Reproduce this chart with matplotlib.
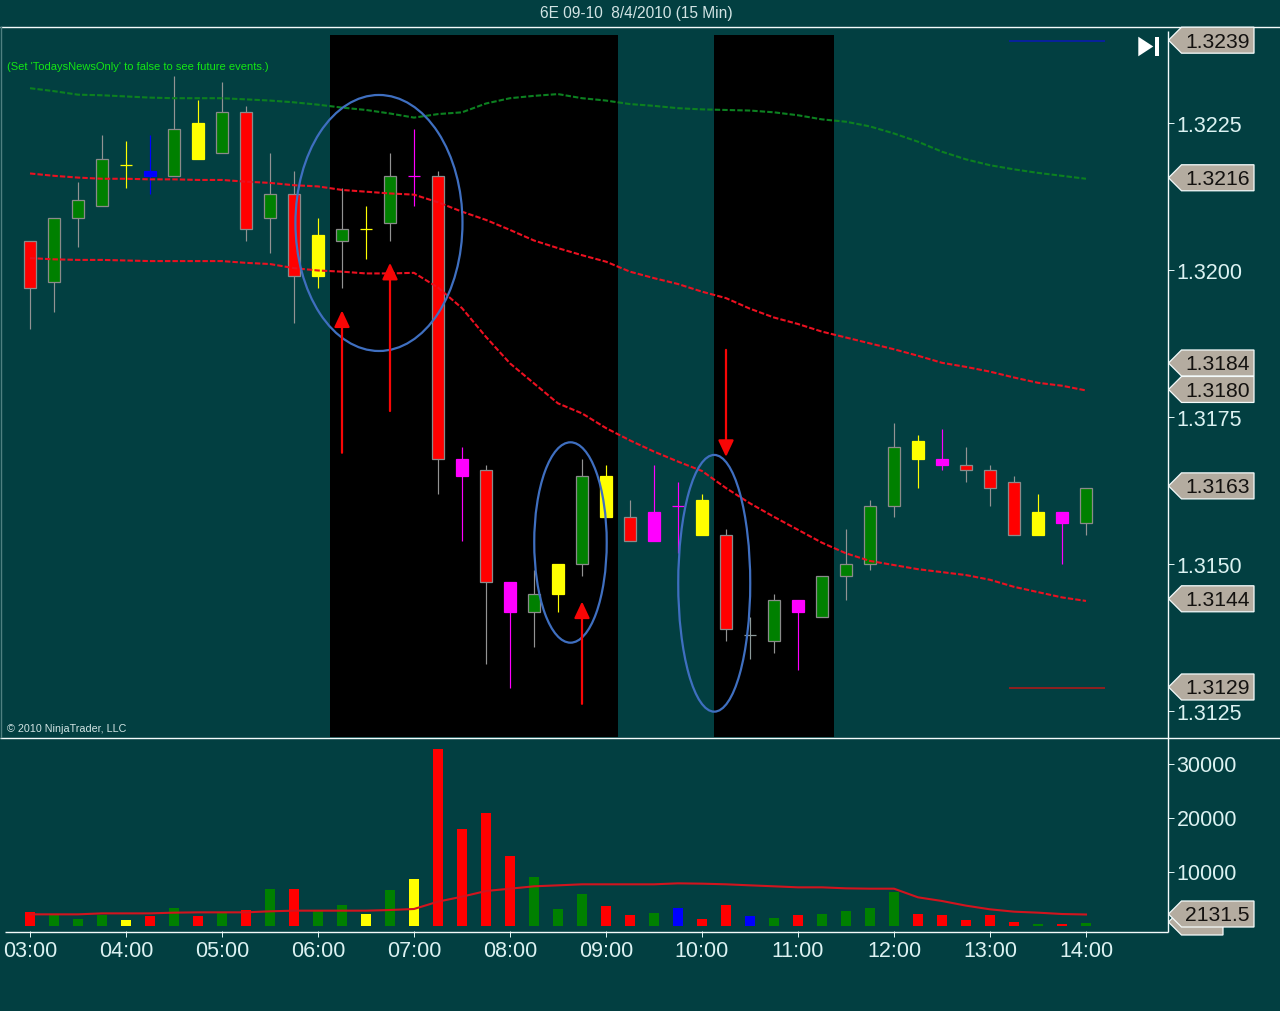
import matplotlib
matplotlib.use("Agg")
import matplotlib.pyplot as plt
from matplotlib.patches import Ellipse, FancyArrowPatch, Polygon
from matplotlib.transforms import ScaledTranslation

# bar index 0 = 03:00, one bar every 15 minutes
time_labels = ["03:00", "04:00", "05:00", "06:00", "07:00", "08:00", "09:00",
               "10:00", "11:00", "12:00", "13:00", "14:00"]

body_top = [1.3205, 1.3209, 1.3212, 1.3219, 1.3218, 1.3217, 1.3224, 1.3225, 1.3227,
            1.3227, 1.3213, 1.3213, 1.3206, 1.3207, 1.3207, 1.3216, 1.3216, 1.3216,
            1.3168, 1.3166, 1.3147, 1.3145, 1.3150, 1.3165, 1.3165, 1.3158, 1.3159,
            1.3160, 1.3161, 1.3155, 1.3138, 1.3144, 1.3144, 1.3148, 1.3150, 1.3160,
            1.3170, 1.3171, 1.3168, 1.3167, 1.3166, 1.3164, 1.3159, 1.3159, 1.3163]
body_bottom = [1.3197, 1.3198, 1.3209, 1.3211, 1.3218, 1.3216, 1.3216, 1.3219, 1.3220,
               1.3207, 1.3209, 1.3199, 1.3199, 1.3205, 1.3207, 1.3208, 1.3216, 1.3168,
               1.3165, 1.3147, 1.3142, 1.3142, 1.3145, 1.3150, 1.3158, 1.3154, 1.3154,
               1.3160, 1.3155, 1.3139, 1.3138, 1.3137, 1.3142, 1.3141, 1.3148, 1.3150,
               1.3160, 1.3168, 1.3167, 1.3166, 1.3163, 1.3155, 1.3155, 1.3157, 1.3157]
highs = [1.3205, 1.3209, 1.3215, 1.3223, 1.3222, 1.3223, 1.3233, 1.3229, 1.3232,
         1.3228, 1.3220, 1.3217, 1.3209, 1.3214, 1.3211, 1.3220, 1.3224, 1.3217,
         1.3170, 1.3167, 1.3147, 1.3149, 1.3150, 1.3168, 1.3167, 1.3161, 1.3167,
         1.3164, 1.3162, 1.3156, 1.3141, 1.3145, 1.3144, 1.3148, 1.3156, 1.3161,
         1.3174, 1.3172, 1.3173, 1.3170, 1.3167, 1.3165, 1.3162, 1.3159, 1.3163]
lows = [1.3190, 1.3193, 1.3204, 1.3211, 1.3214, 1.3213, 1.3216, 1.3219, 1.3220,
        1.3205, 1.3203, 1.3191, 1.3197, 1.3197, 1.3202, 1.3205, 1.3211, 1.3162,
        1.3154, 1.3133, 1.3129, 1.3136, 1.3142, 1.3148, 1.3158, 1.3154, 1.3154,
        1.3152, 1.3155, 1.3137, 1.3134, 1.3135, 1.3132, 1.3141, 1.3144, 1.3149,
        1.3158, 1.3163, 1.3166, 1.3164, 1.3160, 1.3155, 1.3155, 1.3150, 1.3155]
candle_colors = list("RGGGYBGYGRGRYGYGMRMRMGYGYRMMYRWGMGGGGYMRRRYMG")

volumes = [2593, 2222, 1296, 2037, 1111, 1852, 3333, 1852, 2593, 2963, 6852, 6852,
           2778, 3889, 2222, 6667, 8704, 32778, 17963, 20926, 12963, 9074, 3148, 5926,
           3704, 2037, 2407, 3333, 1296, 3889, 1852, 1481, 2037, 2222, 2778, 3333,
           6296, 2222, 2037, 1111, 2037, 741, 370, 370, 556]
volume_colors = list("RGGGYRGRGRGRGGYGYRRRRGGGRRGBRRBGRGGGGRRRRRGRG")
volume_avg = [2160, 2160, 2160, 2340, 2340, 2340, 2470, 2530, 2530, 2530, 2720, 2840,
              2840, 2840, 2840, 2960, 3150, 4510, 5430, 6480, 6910, 7350, 7530, 7720,
              7720, 7720, 7720, 7900, 7840, 7720, 7530, 7350, 7160, 7160, 6975, 6910,
              6910, 5310, 4630, 3770, 3090, 2655, 2470, 2220, 2131.5]

upper_green = [1.32310, 1.32305, 1.32299, 1.32298, 1.32296, 1.32294, 1.32293, 1.32293,
               1.32293, 1.32291, 1.32289, 1.32286, 1.32282, 1.32277, 1.32273, 1.32267,
               1.32260, 1.32266, 1.32269, 1.32284, 1.32293, 1.32297, 1.32300, 1.32293,
               1.32289, 1.32283, 1.32280, 1.32276, 1.32274, 1.32273, 1.32272, 1.32269,
               1.32264, 1.32257, 1.32253, 1.32245, 1.32233, 1.32219, 1.32202, 1.32189,
               1.32179, 1.32172, 1.32166, 1.32161, 1.32156]
mid_red = [1.32165, 1.32161, 1.32158, 1.32156, 1.32156, 1.32155, 1.32155, 1.32154,
           1.32154, 1.32151, 1.32149, 1.32145, 1.32143, 1.32137, 1.32134, 1.32131,
           1.32129, 1.32116, 1.32100, 1.32086, 1.32069, 1.32051, 1.32038, 1.32026,
           1.32015, 1.31998, 1.31987, 1.31977, 1.31964, 1.31953, 1.31935, 1.31920,
           1.31909, 1.31896, 1.31886, 1.31876, 1.31866, 1.31855, 1.31843, 1.31836,
           1.31828, 1.31818, 1.31809, 1.31804, 1.31796]
lower_red = [1.32021, 1.32019, 1.32018, 1.32018, 1.32017, 1.32016, 1.32016, 1.32016,
             1.32016, 1.32013, 1.32011, 1.32004, 1.32000, 1.31998, 1.31995, 1.31995,
             1.31996, 1.31971, 1.31936, 1.31887, 1.31842, 1.31808, 1.31774, 1.31757,
             1.31732, 1.31711, 1.31692, 1.31675, 1.31659, 1.31630, 1.31604, 1.31581,
             1.31559, 1.31537, 1.31519, 1.31506, 1.31499, 1.31492, 1.31487, 1.31482,
             1.31474, 1.31462, 1.31453, 1.31444, 1.31438]

price_ticks = [1.3125, 1.3150, 1.3175, 1.3200, 1.3225]
volume_ticks = [10000, 20000, 30000]
price_flags = [1.3239, 1.32156, 1.31841, 1.31796, 1.31632, 1.3144, 1.3129]
black_spans = [(12.5, 24.5), (28.5, 33.5)]
prior_levels = [(1.3239, "#0A1EA8"), (1.3129, "#A01C1C")]

# (start price, tip price, bar index) for the hand drawn arrows
arrows = [(1.31690, 1.31932, 13), (1.31761, 1.32013, 15),
          (1.31263, 1.31437, 23), (1.31865, 1.31683, 29)]
# (bar, price, width in bars, height in price)
ellipses = [(14.54, 1.320808, 6.96, 0.004354),
            (22.52, 1.315374, 3.02, 0.003408),
            (28.51, 1.314680, 3.00, 0.004366)]

TEAL = "#023F41"
LIGHT = "#DCF2F2"
palette = {"R": "#FF0000", "G": "#008000", "Y": "#FFFF00", "M": "#FF00FF",
           "B": "#0000FF", "W": "#8C9A9A"}
W, H = 1280, 1012

plt.rcParams["font.family"] = ["Liberation Sans", "DejaVu Sans"]
fig = plt.figure(figsize=(W / 100, H / 100), dpi=100, facecolor=TEAL)
ax = fig.add_axes([0, (H - 738) / H, 1167.5 / W, 710 / H], facecolor=TEAL)
vol = fig.add_axes([0, (H - 932) / H, 1167.5 / W, 194 / H], facecolor=TEAL)
over = fig.add_axes([0, 0, 1, 1], facecolor="none")
over.set_xlim(0, W)
over.set_ylim(H, 0)
over.axis("off")


def price_px(p):
    return 270.5 - (p - 1.32) * 58800


# price pane
for left, right in black_spans:
    ax.axvspan(left, right, ymin=0, ymax=702.5 / 710, color="black", lw=0, zorder=1)

for i, c in enumerate(candle_colors):
    fill = palette[c]
    edge = "#8A8A8A" if c in "RG" else fill
    wick = "#939393" if c in "RG" else fill
    ax.vlines(i, lows[i], highs[i], color=wick, lw=0.85, zorder=2)
    if body_top[i] == body_bottom[i]:
        ax.hlines(body_top[i], i - 0.27, i + 0.27, color=wick, lw=0.9, zorder=3)
    else:
        ax.bar(i, body_top[i] - body_bottom[i], bottom=body_bottom[i], width=0.47,
               color=fill, edgecolor=edge, lw=0.9, zorder=3)

xs = list(range(len(upper_green)))
ax.plot(xs, upper_green, color="#0C8020", lw=1.5, ls=(0, (2.6, 1)), zorder=4)
ax.plot(xs, mid_red, color="#EC1020", lw=1.5, ls=(0, (2.6, 1)), zorder=4)
ax.plot(xs, lower_red, color="#EC1020", lw=1.5, ls=(0, (2.6, 1)), zorder=4)

for price, color in prior_levels:
    ax.hlines(price, 40.79, 44.79, color=color, lw=1.25, zorder=4)

for cx, cy, w, h in ellipses:
    ax.add_patch(Ellipse((cx, cy), w, h, fill=False, ec="#3F6FC0", lw=1.6, zorder=5))

for start, tip, i in arrows:
    ax.add_patch(FancyArrowPatch((i, start), (i, tip), shrinkA=0, shrinkB=0,
                                 arrowstyle="-|>,head_length=1.0,head_width=0.47",
                                 mutation_scale=10, color="#F80606", lw=1.6, zorder=6))

ax.set_xlim(-1.25, 47.396)
ax.set_ylim(1.312066, 1.324141)
ax.set_xticks([])
ax.yaxis.tick_right()
ax.set_yticks(price_ticks)
ax.set_yticklabels([f"{p:.4f}" for p in price_ticks])

# volume pane
for i, c in enumerate(volume_colors):
    vol.bar(i, volumes[i], width=0.42, color=palette[c], lw=0, zorder=2)
vol.plot(xs, volume_avg, color="#D2141E", lw=1.5, zorder=3)
vol.set_xlim(-1.25, 47.396)
vol.set_ylim(-926, 35000)
vol.yaxis.tick_right()
vol.set_yticks(volume_ticks)
vol.set_yticklabels([str(v) for v in volume_ticks])
vol.set_xticks(range(0, 4 * len(time_labels), 4))
vol.set_xticklabels(time_labels)

for a in (ax, vol):
    for s in a.spines.values():
        s.set_visible(False)
    a.tick_params(axis="both", colors=LIGHT, labelsize=15.5, length=4.3, width=0.72, pad=2.2)
vol.tick_params(axis="x", pad=2.5)

# the tick labels sit a little above their tick marks
lift = ScaledTranslation(0, 0.6 / 72, fig.dpi_scale_trans)
for a in (ax, vol):
    for lbl in a.get_yticklabels():
        lbl.set_transform(lbl.get_transform() + lift)

# frame lines
for x0, x1, y0, y1 in [(0, W, 27.5, 27.5), (0, W, 738.5, 738.5),
                       (5, 1167.5, 932.5, 932.5), (1167.5, 1167.5, 32, 932.5)]:
    over.plot([x0, x1], [y0, y1], color="#F4FBFB", lw=1.0, solid_capstyle="butt", zorder=2)
over.plot([0.5, 0.5], [28, 738], color="#4F8080", lw=1.0)


def flag(y, right, text=None):
    pts = [(1168.5, y), (1181.5, y - 13), (right, y - 13), (right, y + 13), (1181.5, y + 13)]
    over.add_patch(Polygon(pts, closed=True, fc="#B4ACA0", ec="#F4FBFB", lw=0.9, zorder=3))
    if text:
        over.text(1185, y - 1, text, color="#141210", fontsize=15.2, va="center_baseline",
                  ha="left", zorder=4)


for p in price_flags:
    flag(price_px(p), 1254, f"{round(p, 4):.4f}")
flag(923, 1223)
flag(915, 1254, "2131.5")

# play / end marker
over.add_patch(Polygon([(1138.3, 37.7), (1153.3, 47.5), (1138.3, 57.3)], closed=True,
                       fc="white", ec="none"))
over.fill_between([1155.3, 1158.7], 37.7, 57, color="white", lw=0)

over.text(636, 13.5, "6E 09-10  8/4/2010 (15 Min)", color="#D2E4E4", fontsize=11.2,
          ha="center", va="center")
over.text(7, 66.5, "(Set 'TodaysNewsOnly' to false to see future events.)", color="#14E614",
          fontsize=8.05, ha="left", va="center")
over.text(7, 729, "\u00a9 2010 NinjaTrader, LLC", color="#D2E4E4", fontsize=7.75,
          ha="left", va="center")

fig.savefig("out.png", dpi=100, facecolor=TEAL)
